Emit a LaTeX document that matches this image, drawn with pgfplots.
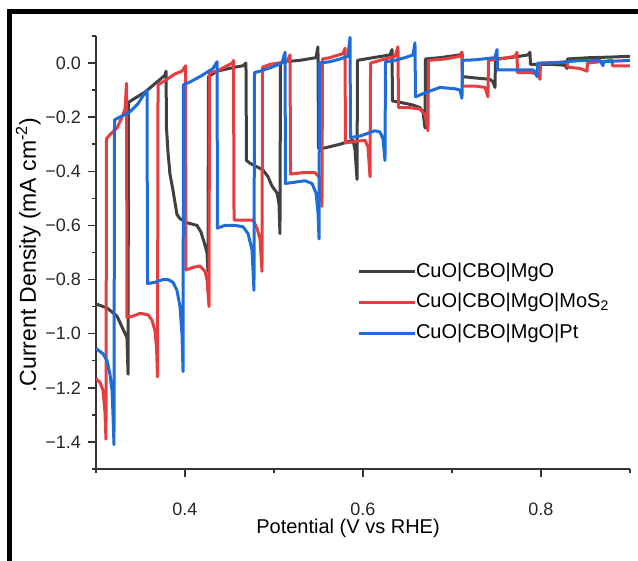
\documentclass[border=0pt]{standalone}
\usepackage{fontspec}
\setmainfont{Liberation Sans}
\usepackage{pgfplots}
\pgfplotsset{compat=1.18}
\definecolor{cblk}{HTML}{404040}
\definecolor{cred}{HTML}{E63E40}
\definecolor{cblu}{HTML}{1D6CD9}
\begin{document}
\begin{tikzpicture}
\useasboundingbox (0pt,0pt) rectangle (319pt,280.5pt);
\draw[line width=2.5pt] (4.75pt,-5pt) -- (4.75pt,274.5pt) -- (330pt,274.5pt);
\begin{axis}[
  at={(48pt,46pt)}, anchor=south west,
  scale only axis, width=267pt, height=216.5pt,
  xmin=0.3, xmax=0.9, ymin=-1.5, ymax=0.1,
  axis x line*=bottom, axis y line*=left,
  axis line style={-, line width=0.75pt, color=black!80},
  tick align=outside,
  major tick length=4pt, minor tick length=2.25pt,
  tick style={line width=0.75pt, black!80},
  xtick={0.4,0.6,0.8}, xticklabels={0.4,0.6,0.8},
  minor xtick={0.3,0.5,0.7,0.9},
  ytick={-1.4,-1.2,-1.0,-0.8,-0.6,-0.4,-0.2,0},
  yticklabels={−1.4,−1.2,−1.0,−0.8,−0.6,−0.4,−0.2,0.0},
  minor ytick={-1.5,-1.3,-1.1,-0.9,-0.7,-0.5,-0.3,-0.1,0.1},
  tick label style={font=\fontsize{9}{10.5}\selectfont, text=black!85},
  xticklabel style={yshift=-9.4pt},
  xlabel={Potential (V vs RHE)},
  xlabel style={font=\fontsize{10}{12}\selectfont, at={(axis description cs:0.472,-0.136)}, anchor=center},
  ylabel={.Current Density (mA cm\textsuperscript{-2})},
  ylabel style={font=\fontsize{11.5}{13}\selectfont, at={(axis description cs:-0.127,0.494)}, anchor=center},
  legend style={at={(rel axis cs:0.4888,0.48)}, anchor=north west, draw=none, fill=none,
    font=\fontsize{10}{12}\selectfont, row sep=4.9pt, inner sep=0pt, outer sep=0pt,
    nodes={inner sep=0pt, text height=8pt, text depth=2.5pt}},
  legend cell align=left,
  legend image code/.code={\draw[#1, line width=1.3pt] (0pt,0pt) -- (25.5pt,0pt); \path (0pt,0pt) -- (28pt,0pt);},
  every axis plot/.append style={line width=1.5pt, line join=round},
]
\addplot[cblk] coordinates {
(0.3000,-0.89) (0.3124,-0.905) (0.3236,-0.935) (0.3292,-0.975) (0.3348,-1.015) (0.3360,-1.15)
(0.3365,-0.145) (0.3438,-0.13) (0.3551,-0.107) (0.3685,-0.07) (0.3775,-0.045) (0.3787,-0.03)
(0.3792,-0.24) (0.3809,-0.33) (0.3831,-0.41) (0.3865,-0.47) (0.3910,-0.56) (0.3944,-0.575) (0.4022,-0.59) (0.4135,-0.60) (0.4180,-0.625) (0.4213,-0.66) (0.4247,-0.70) (0.4258,-0.77)
(0.4264,-0.05) (0.4360,-0.03) (0.4562,-0.015) (0.4652,-0.01) (0.4685,0.0)
(0.4691,-0.36) (0.4730,-0.37) (0.4876,-0.395) (0.4933,-0.42) (0.4978,-0.455) (0.5034,-0.48) (0.5056,-0.52) (0.5067,-0.63)
(0.5073,0.0) (0.5124,0.005) (0.5292,0.01) (0.5472,0.02) (0.5494,0.06)
(0.5500,-0.315) (0.5551,-0.315) (0.5742,-0.30) (0.5888,-0.285) (0.5910,-0.32) (0.5933,-0.43)
(0.5938,0.01) (0.6079,0.018) (0.6303,0.03) (0.6326,0.05)
(0.6331,-0.14) (0.6416,-0.145) (0.6562,-0.155) (0.6640,-0.165) (0.6674,-0.18) (0.6697,-0.24)
(0.6702,0.015) (0.6865,0.02) (0.7090,0.03) (0.7112,0.04)
(0.7118,-0.05) (0.7258,-0.055) (0.7427,-0.06) (0.7461,-0.07) (0.7483,-0.09)
(0.7489,0.015) (0.7652,0.02) (0.7854,0.03) (0.7876,0.04)
(0.7882,-0.005) (0.8101,-0.005) (0.8270,-0.008) (0.8292,-0.02)
(0.8298,0.015) (0.8551,0.02) (0.8775,0.022) (0.9000,0.025)
};
\addlegendentry{CuO|CBO|MgO}
\addplot[cred] coordinates {
(0.3000,-1.166) (0.3045,-1.18) (0.3079,-1.21) (0.3101,-1.29) (0.3112,-1.39)
(0.3118,-0.28) (0.3157,-0.265) (0.3236,-0.24) (0.3292,-0.2) (0.3326,-0.17) (0.3343,-0.075)
(0.3348,-0.94) (0.3416,-0.935) (0.3494,-0.925) (0.3584,-0.93) (0.3629,-0.95) (0.3663,-0.99) (0.3680,-1.05) (0.3691,-1.16)
(0.3697,-0.08) (0.3775,-0.065) (0.3888,-0.04) (0.3966,-0.03) (0.4006,-0.01)
(0.4011,-0.765) (0.4090,-0.755) (0.4169,-0.75) (0.4225,-0.77) (0.4247,-0.80) (0.4270,-0.90)
(0.4275,-0.035) (0.4360,-0.03) (0.4472,-0.01) (0.4534,0.0) (0.4545,0.01)
(0.4551,-0.58) (0.4674,-0.58) (0.4764,-0.58) (0.4809,-0.61) (0.4843,-0.65) (0.4865,-0.77)
(0.4871,-0.015) (0.4955,-0.005) (0.5146,0.005) (0.5180,0.03)
(0.5186,-0.41) (0.5326,-0.405) (0.5461,-0.405) (0.5506,-0.42) (0.5528,-0.46) (0.5539,-0.53)
(0.5545,0.015) (0.5629,0.02) (0.5775,0.035) (0.5798,0.055)
(0.5803,-0.295) (0.5910,-0.29) (0.6022,-0.285) (0.6056,-0.31) (0.6079,-0.42)
(0.6085,0.0) (0.6191,0.01) (0.6360,0.025) (0.6393,0.06)
(0.6399,-0.165) (0.6528,-0.165) (0.6640,-0.17) (0.6697,-0.19) (0.6730,-0.25)
(0.6736,0.01) (0.6921,0.015) (0.7090,0.025) (0.7112,0.04)
(0.7118,-0.085) (0.7258,-0.085) (0.7371,-0.09) (0.7404,-0.125)
(0.7410,0.01) (0.7539,0.015) (0.7708,0.025) (0.7730,0.04)
(0.7736,-0.035) (0.7876,-0.035) (0.7966,-0.04) (0.7989,-0.06)
(0.7994,0.0) (0.8157,0.002) (0.8292,0.005)
(0.8298,-0.015) (0.8438,-0.02) (0.8517,-0.03)
(0.8522,0.0) (0.8663,0.005) (0.8798,0.01)
(0.8803,-0.01) (0.8944,-0.01) (0.9000,-0.01)
};
\addlegendentry{CuO|CBO|MgO|MoS\textsubscript{2}}
\addplot[cblu] coordinates {
(0.3000,-1.055) (0.3079,-1.074) (0.3124,-1.10) (0.3157,-1.15) (0.3180,-1.21) (0.3191,-1.30) (0.3202,-1.41)
(0.3208,-0.21) (0.3236,-0.205) (0.3326,-0.19) (0.3382,-0.18) (0.3472,-0.15) (0.3551,-0.11) (0.3573,-0.10)
(0.3579,-0.815) (0.3663,-0.81) (0.3753,-0.80) (0.3809,-0.80) (0.3865,-0.81) (0.3910,-0.84) (0.3944,-0.90) (0.3966,-1.0) (0.3978,-1.14)
(0.3983,-0.08) (0.4056,-0.07) (0.4169,-0.05) (0.4315,-0.02) (0.4360,0.005)
(0.4365,-0.61) (0.4449,-0.60) (0.4562,-0.60) (0.4652,-0.605) (0.4708,-0.63) (0.4753,-0.69) (0.4775,-0.84)
(0.4781,-0.035) (0.4843,-0.03) (0.4978,-0.015) (0.5090,0.0) (0.5124,0.04)
(0.5129,-0.445) (0.5236,-0.44) (0.5348,-0.435) (0.5427,-0.445) (0.5472,-0.48) (0.5494,-0.55) (0.5506,-0.65)
(0.5511,0.0) (0.5629,0.005) (0.5742,0.015) (0.5831,0.025) (0.5854,0.095)
(0.5860,-0.275) (0.5966,-0.27) (0.6135,-0.25) (0.6191,-0.255) (0.6225,-0.28) (0.6247,-0.36)
(0.6253,0.005) (0.6360,0.01) (0.6472,0.02) (0.6562,0.03) (0.6584,0.075)
(0.6590,-0.125) (0.6697,-0.11) (0.6865,-0.09) (0.7034,-0.095) (0.7090,-0.10) (0.7112,-0.13)
(0.7118,0.01) (0.7258,0.012) (0.7483,0.02) (0.7506,0.05)
(0.7512,-0.025) (0.7708,-0.025) (0.7910,-0.025) (0.7933,-0.035) (0.7955,-0.05)
(0.7961,0.0) (0.8101,0.0) (0.8270,0.003)
(0.8275,0.005) (0.8494,0.01) (0.8663,0.01) (0.8697,-0.01)
(0.8702,0.005) (0.8888,0.008) (0.9000,0.01)
};
\addlegendentry{CuO|CBO|MgO|Pt}
\end{axis}
\end{tikzpicture}
\end{document}
